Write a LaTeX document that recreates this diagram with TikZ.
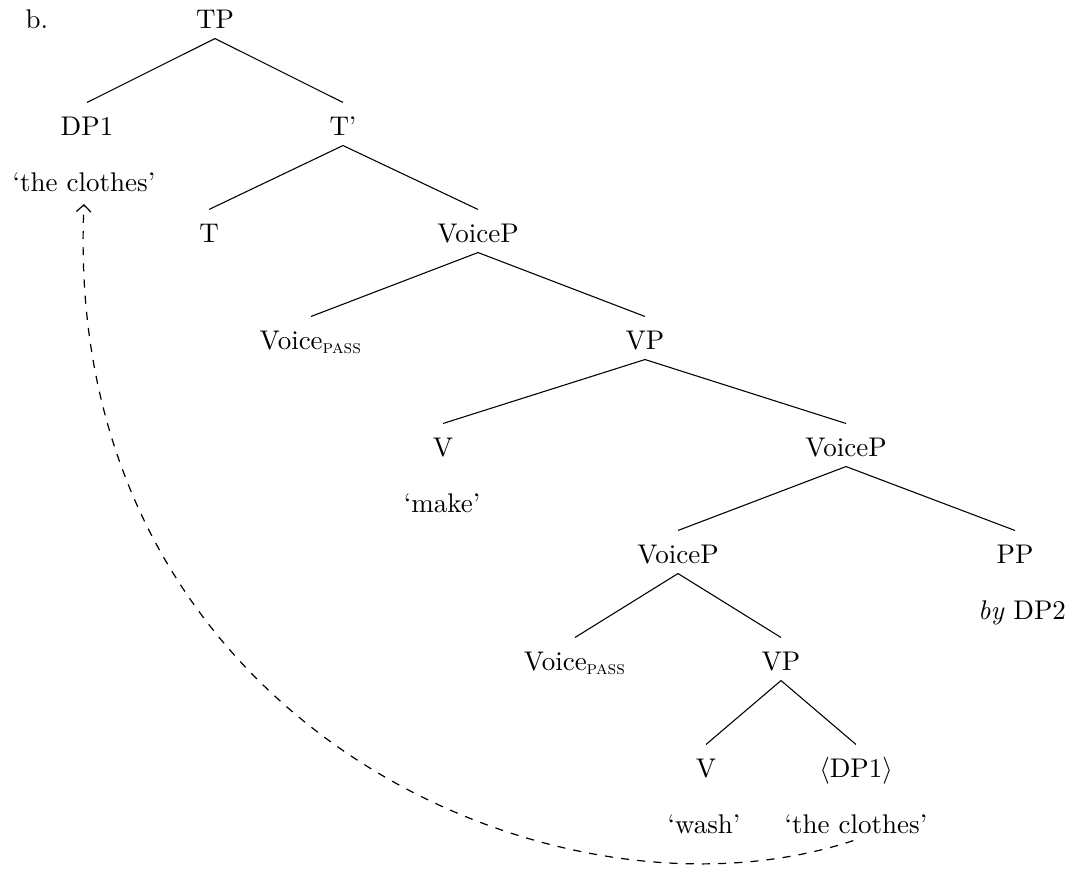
\documentclass[tikz,border=0pt]{standalone}
\usetikzlibrary{arrows.meta}
\begin{document}
\tikzset{
  cat/.style={anchor=base, inner sep=0pt, text height=11.85pt, text depth=3.7pt},
  gloss/.style={anchor=base, inner sep=0pt},
  branch/.style={line width=0.4pt},
  movearrow/.style={dashed, line width=0.45pt, -{Straight Barb[length=2.6pt,width=5.4pt]}},
}
\begin{tikzpicture}[x=0.3704pt, y=-0.3704pt]
\useasboundingbox (0,0) rectangle (1075,872);
\node[gloss, anchor=base west] (lbl) at (25,28) {b.};
\node[cat] (TP) at (215,28) {TP};
\node[cat] (DP1) at (87,135) {DP1};
\node[cat] (Tbar) at (343,135) {T'};
\node[gloss] (g1) at (84,191) {`the clothes'};
\node[cat] (T) at (209,242) {T};
\node[cat] (VoiceP1) at (478,242) {VoiceP};
\node[cat] (Voice1) at (311,349) {Voice\textsubscript{\textsc{pass}}};
\node[cat] (VP1) at (645,349) {VP};
\node[cat] (V1) at (443,456) {V};
\node[cat] (VoiceP2) at (846,456) {VoiceP};
\node[gloss] (g2) at (442,512) {`make'};
\node[cat] (VoiceP3) at (678,563) {VoiceP};
\node[cat] (PP) at (1015,563) {PP};
\node[gloss] (g3) at (1022,619) {\textit{by} DP2};
\node[cat] (Voice2) at (575,670) {Voice\textsubscript{\textsc{pass}}};
\node[cat] (VP2) at (781,670) {VP};
\node[cat] (V2) at (706,777) {V};
\node[cat] (DP1t) at (856,777) {$\langle$DP1$\rangle$};
\node[gloss] (g4) at (704,833) {`wash'};
\node[gloss] (g5) at (856,833) {`the clothes'};

\draw[branch] (TP.south) -- (DP1.north);
\draw[branch] (TP.south) -- (Tbar.north);
\draw[branch] (Tbar.south) -- (T.north);
\draw[branch] (Tbar.south) -- (VoiceP1.north);
\draw[branch] (VoiceP1.south) -- (Voice1.north);
\draw[branch] (VoiceP1.south) -- (VP1.north);
\draw[branch] (VP1.south) -- (V1.north);
\draw[branch] (VP1.south) -- (VoiceP2.north);
\draw[branch] (VoiceP2.south) -- (VoiceP3.north);
\draw[branch] (VoiceP2.south) -- (PP.north);
\draw[branch] (VoiceP3.south) -- (Voice2.north);
\draw[branch] (VoiceP3.south) -- (VP2.north);
\draw[branch] (VP2.south) -- (V2.north);
\draw[branch] (VP2.south) -- (DP1t.north);

\draw[movearrow] ([xshift=-1pt,yshift=-2.5pt]g5.south) .. controls (553,940) and (60,720) .. ([yshift=-4.5pt]g1.south);
\end{tikzpicture}
\end{document}
